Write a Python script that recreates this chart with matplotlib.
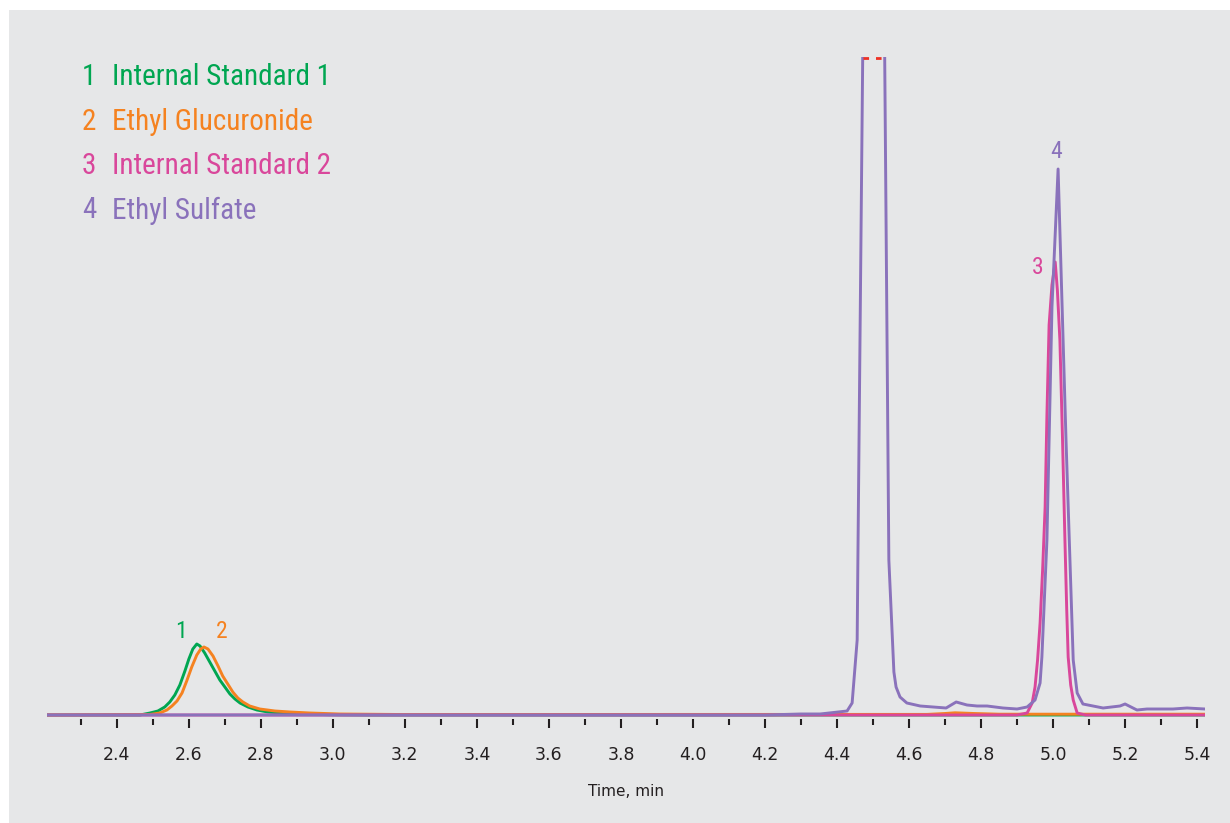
import matplotlib
matplotlib.use("Agg")
import matplotlib.pyplot as plt
from matplotlib.patches import Rectangle
from matplotlib.ticker import MultipleLocator

# chromatogram traces (time in min, relative height)
is1_time = [2.206, 2.464, 2.492, 2.514, 2.533, 2.547, 2.561, 2.575, 2.589, 2.600,
            2.611, 2.622, 2.631, 2.644, 2.658, 2.672, 2.686, 2.700, 2.714, 2.728,
            2.742, 2.764, 2.789, 2.819, 2.853, 2.908, 2.992, 3.100, 5.422]
is1_int = [0, 0, 2, 4, 8, 13, 20, 30, 44, 56, 66, 71, 69, 62, 53, 44, 35, 28, 21, 16,
           12, 8, 5, 3, 2, 1, 0.3, 0, 0]

etg_time = [2.206, 2.492, 2.519, 2.539, 2.553, 2.567, 2.581, 2.594, 2.608, 2.622,
            2.633, 2.642, 2.653, 2.667, 2.681, 2.694, 2.708, 2.722, 2.736, 2.750,
            2.769, 2.797, 2.839, 2.881, 2.936, 3.019, 3.186, 4.650, 4.700, 4.728,
            4.780, 4.850, 5.422]
etg_int = [0, 0.5, 2, 5, 9, 14, 22, 34, 48, 60, 66, 68, 66, 59, 49, 39, 31, 23, 17,
           13, 9, 6, 4, 3, 2, 1, 0.5, 0.6, 1.5, 2.2, 1.5, 0.8, 0.8]

is2_time = [2.206, 4.900, 4.928, 4.942, 4.950, 4.957, 4.964, 4.971, 4.978, 4.983,
            4.989, 4.997, 5.006, 5.012, 5.019, 5.026, 5.033, 5.038, 5.042, 5.049,
            5.056, 5.067, 5.090, 5.422]
is2_int = [0, 0, 2, 12, 28, 55, 92, 145, 208, 300, 390, 430, 453, 425, 375, 280, 175,
           105, 58, 30, 15, 2, 0, 0]

ets_time = [2.206, 4.200, 4.300, 4.353, 4.428, 4.442, 4.456, 4.458, 4.4725, 4.480,
            4.520, 4.5315, 4.544, 4.558, 4.564, 4.575, 4.594, 4.631, 4.667, 4.703,
            4.731, 4.761, 4.789, 4.817, 4.861, 4.900, 4.928, 4.950, 4.964, 4.969,
            4.983, 4.997, 5.014, 5.036, 5.056, 5.067, 5.083, 5.139, 5.186, 5.200,
            5.233, 5.261, 5.333, 5.372, 5.422]
ets_int = [0, 0, 1, 1, 4, 12, 75, 155, 700, 2000, 2000, 700, 155, 43, 28, 18, 12, 9,
           8, 7, 13, 10, 9, 9, 7, 6, 8, 15, 32, 58, 175, 408, 546, 275, 55, 22, 11, 7,
           9, 11, 5, 6, 6, 7, 6]

names = ["Internal Standard 1", "Ethyl Glucuronide", "Internal Standard 2", "Ethyl Sulfate"]
colors = ["#00a651", "#f58220", "#d9479b", "#8a72bb"]
peak_labels = [("1", 2.578, 83), ("2", 2.692, 83), ("3", 4.958, 448), ("4", 5.008, 564)]
y_top = 658  # truncated off-scale peak at 4.5 min

W, H = 1230, 823
fig = plt.figure(figsize=(W / 100, H / 100), dpi=100, facecolor="white")
fig.patches.append(Rectangle((9 / W, 0), 1 - 9 / W, 1 - 10 / H, transform=fig.transFigure,
                             facecolor="#e6e7e8", edgecolor="none", zorder=-5))

ax = fig.add_axes([47 / W, 1 - 719 / H, (1205 - 47) / W, 662 / H])
ax.set_zorder(2)
ax.set_facecolor("none")
for c, t, y in zip(colors, [is1_time, etg_time, is2_time, ets_time],
                   [is1_int, etg_int, is2_int, ets_int]):
    ax.plot(t, y, color=c, lw=2.1, solid_joinstyle="round")

# dashed marker for the clipped peak top
ax.plot([4.472, 4.531], [y_top - 1, y_top - 1], color="#ee3124", lw=2.0,
        ls=(0, (2, 2.5)), clip_on=False, zorder=5)

ax.set_xlim(2.206, 5.422)
ax.set_ylim(-4, y_top)
for s in ax.spines.values():
    s.set_visible(False)
ax.set_yticks([])
ax.xaxis.set_major_locator(MultipleLocator(0.2))
ax.xaxis.set_minor_locator(MultipleLocator(0.1))
ax.tick_params(axis="x", which="major", direction="out", length=6.5, width=1.5,
               color="#231f20", labelsize=12.5, pad=13, labelcolor="#231f20")
ax.tick_params(axis="x", which="minor", direction="out", length=4.3, width=1.5,
               color="#231f20")
ax.set_xticklabels([f"{v:.1f}" for v in ax.get_xticks()])
ax.set_xlabel("Time, min", fontsize=11, color="#231f20", labelpad=14)

narrow = ["Liberation Sans Narrow", "Roboto Condensed", "Roboto", "DejaVu Sans"]
for i, (n, c) in enumerate(zip(names, colors)):
    yc = 1 - (77 + 44.5 * i) / H
    fig.text(82 / W, yc, str(i + 1), color=c, fontsize=21, family=narrow, va="center")
    fig.text(112 / W, yc, n, color=c, fontsize=21, family=narrow, va="center")

for (lab, tx, ty), c in zip(peak_labels, colors):
    ax.text(tx, ty, lab, color=c, fontsize=17, family=narrow, ha="center", va="center")

fig.savefig("out.png", dpi=100, facecolor="white")
